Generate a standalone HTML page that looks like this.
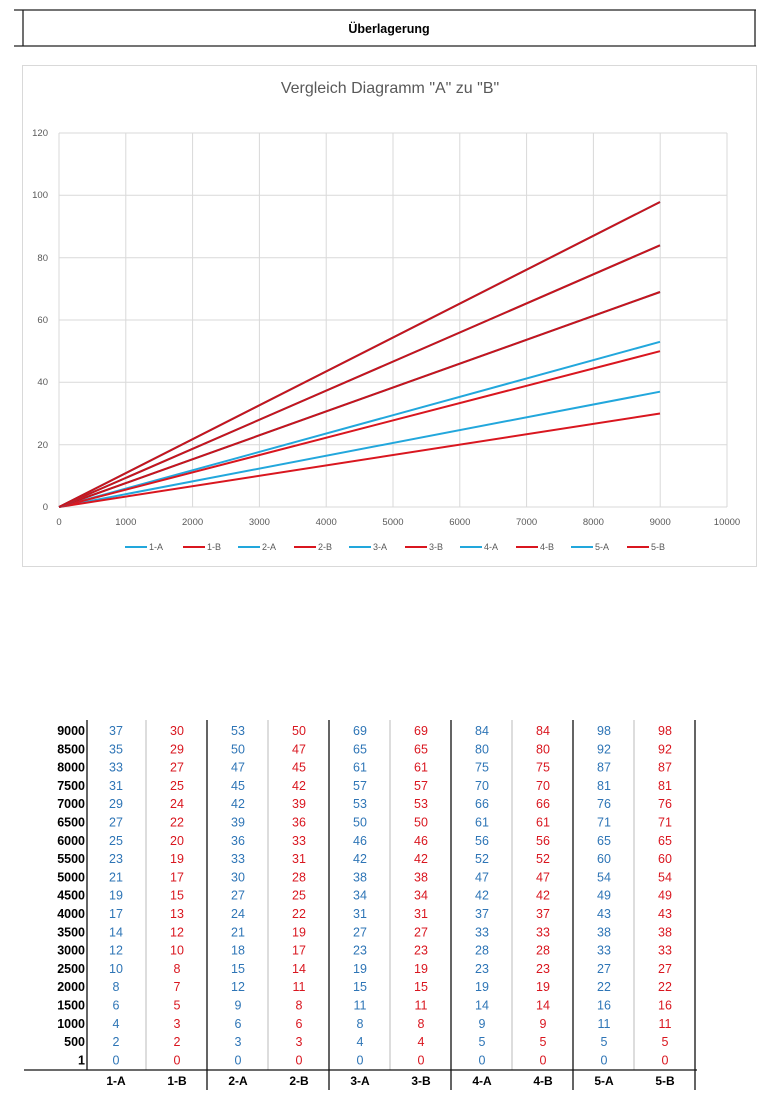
<!DOCTYPE html>
<html><head><meta charset="utf-8"><style>
body{margin:0;background:#fff;width:770px;height:1101px;overflow:hidden}
svg{display:block;font-family:"Liberation Sans",Arial,sans-serif}
</style></head><body>
<svg width="770" height="1101" viewBox="0 0 770 1101">
<!-- header -->
<line x1="14" y1="10" x2="756" y2="10" stroke="#222" stroke-width="1.3"/>
<line x1="14" y1="46" x2="756" y2="46" stroke="#222" stroke-width="1.3"/>
<line x1="23" y1="10" x2="23" y2="46" stroke="#222" stroke-width="1.3"/>
<line x1="755" y1="10" x2="755" y2="46" stroke="#222" stroke-width="1.3"/>
<text x="389" y="33" text-anchor="middle" font-size="12.5" font-weight="bold">Überlagerung</text>
<!-- chart box -->
<rect x="22.5" y="65.5" width="734" height="501" fill="#fff" stroke="#d9d9d9"/>
<text x="390" y="93" text-anchor="middle" font-size="16" fill="#595959">Vergleich Diagramm "A" zu "B"</text>
<g stroke="#d9d9d9" stroke-width="1">
<line x1="59" y1="133" x2="727" y2="133"/><line x1="59" y1="195.3" x2="727" y2="195.3"/>
<line x1="59" y1="257.7" x2="727" y2="257.7"/><line x1="59" y1="320" x2="727" y2="320"/>
<line x1="59" y1="382.3" x2="727" y2="382.3"/><line x1="59" y1="444.7" x2="727" y2="444.7"/>
<line x1="59" y1="507" x2="727" y2="507"/>
<line x1="59" y1="133" x2="59" y2="507"/><line x1="125.8" y1="133" x2="125.8" y2="507"/>
<line x1="192.6" y1="133" x2="192.6" y2="507"/><line x1="259.4" y1="133" x2="259.4" y2="507"/>
<line x1="326.2" y1="133" x2="326.2" y2="507"/><line x1="393" y1="133" x2="393" y2="507"/>
<line x1="459.8" y1="133" x2="459.8" y2="507"/><line x1="526.6" y1="133" x2="526.6" y2="507"/>
<line x1="593.4" y1="133" x2="593.4" y2="507"/><line x1="660.2" y1="133" x2="660.2" y2="507"/>
<line x1="727" y1="133" x2="727" y2="507"/>
</g>
<g font-size="9.5" fill="#595959" text-anchor="end">
<text x="48" y="136">120</text><text x="48" y="198">100</text><text x="48" y="261">80</text>
<text x="48" y="323">60</text><text x="48" y="385">40</text><text x="48" y="448">20</text><text x="48" y="510">0</text>
</g>
<g font-size="9.5" fill="#595959" text-anchor="middle">
<text x="59" y="525">0</text><text x="125.8" y="525">1000</text><text x="192.6" y="525">2000</text>
<text x="259.4" y="525">3000</text><text x="326.2" y="525">4000</text><text x="393" y="525">5000</text>
<text x="459.8" y="525">6000</text><text x="526.6" y="525">7000</text><text x="593.4" y="525">8000</text>
<text x="660.2" y="525">9000</text><text x="727" y="525">10000</text>
</g>
<g stroke-width="2" fill="none">
<line x1="59" y1="507" x2="660" y2="391.7" stroke="#22a7dc"/>
<line x1="59" y1="507" x2="660" y2="413.5" stroke="#d9161f"/>
<line x1="59" y1="507" x2="660" y2="341.8" stroke="#22a7dc"/>
<line x1="59" y1="507" x2="660" y2="351.2" stroke="#d9161f"/>
<line x1="59" y1="507" x2="660" y2="292" stroke="#22a7dc"/>
<line x1="59" y1="507" x2="660" y2="292" stroke="#c8141c"/>
<line x1="59" y1="507" x2="660" y2="245.3" stroke="#22a7dc"/>
<line x1="59" y1="507" x2="660" y2="245.3" stroke="#c8141c"/>
<line x1="59" y1="507" x2="660" y2="202" stroke="#22a7dc"/>
<line x1="59" y1="507" x2="660" y2="202" stroke="#c8141c"/>
</g>
<g font-size="9" fill="#595959">
<line x1="125" y1="547" x2="147" y2="547" stroke="#22a7dc" stroke-width="2"/><text x="149" y="550">1-A</text>
<line x1="183" y1="547" x2="205" y2="547" stroke="#d9161f" stroke-width="2"/><text x="207" y="550">1-B</text>
<line x1="238" y1="547" x2="260" y2="547" stroke="#22a7dc" stroke-width="2"/><text x="262" y="550">2-A</text>
<line x1="294" y1="547" x2="316" y2="547" stroke="#d9161f" stroke-width="2"/><text x="318" y="550">2-B</text>
<line x1="349" y1="547" x2="371" y2="547" stroke="#22a7dc" stroke-width="2"/><text x="373" y="550">3-A</text>
<line x1="405" y1="547" x2="427" y2="547" stroke="#d9161f" stroke-width="2"/><text x="429" y="550">3-B</text>
<line x1="460" y1="547" x2="482" y2="547" stroke="#22a7dc" stroke-width="2"/><text x="484" y="550">4-A</text>
<line x1="516" y1="547" x2="538" y2="547" stroke="#d9161f" stroke-width="2"/><text x="540" y="550">4-B</text>
<line x1="571" y1="547" x2="593" y2="547" stroke="#22a7dc" stroke-width="2"/><text x="595" y="550">5-A</text>
<line x1="627" y1="547" x2="649" y2="547" stroke="#d9161f" stroke-width="2"/><text x="651" y="550">5-B</text>
</g>
<!-- table -->
<g stroke="#bbb" stroke-width="1">
<line x1="146" y1="720" x2="146" y2="1070"/><line x1="268" y1="720" x2="268" y2="1070"/>
<line x1="390" y1="720" x2="390" y2="1070"/><line x1="512" y1="720" x2="512" y2="1070"/>
<line x1="634" y1="720" x2="634" y2="1070"/>
</g>
<g stroke="#111" stroke-width="1.3">
<line x1="87" y1="720" x2="87" y2="1070"/>
<line x1="207" y1="720" x2="207" y2="1090"/><line x1="329" y1="720" x2="329" y2="1090"/>
<line x1="451" y1="720" x2="451" y2="1090"/><line x1="573" y1="720" x2="573" y2="1090"/>
<line x1="695" y1="720" x2="695" y2="1090"/>
<line x1="24" y1="1070" x2="697" y2="1070"/>
</g>
<g id="tbl" font-size="12.5"></g>
<g font-size="12" font-weight="bold" text-anchor="middle">
<text x="116" y="1085">1-A</text><text x="177" y="1085">1-B</text><text x="238" y="1085">2-A</text>
<text x="299" y="1085">2-B</text><text x="360" y="1085">3-A</text><text x="421" y="1085">3-B</text>
<text x="482" y="1085">4-A</text><text x="543" y="1085">4-B</text><text x="604" y="1085">5-A</text>
<text x="665" y="1085">5-B</text>
</g>
<g font-size="12.5" font-weight="bold" text-anchor="end">
<text x="85" y="735">9000</text><text x="85" y="753.3">8500</text><text x="85" y="771.6">8000</text>
<text x="85" y="789.9">7500</text><text x="85" y="808.2">7000</text><text x="85" y="826.5">6500</text>
<text x="85" y="844.8">6000</text><text x="85" y="863.1">5500</text><text x="85" y="881.4">5000</text>
<text x="85" y="899.7">4500</text><text x="85" y="918">4000</text><text x="85" y="936.3">3500</text>
<text x="85" y="954.6">3000</text><text x="85" y="972.9">2500</text><text x="85" y="991.2">2000</text>
<text x="85" y="1009.5">1500</text><text x="85" y="1027.8">1000</text><text x="85" y="1046.1">500</text>
<text x="85" y="1064.4">1</text>
</g>
<g font-size="12.5" text-anchor="middle">
<g fill="#2e75b6">
<text x="116" y="735">37</text><text x="116" y="753.3">35</text><text x="116" y="771.6">33</text><text x="116" y="789.9">31</text><text x="116" y="808.2">29</text><text x="116" y="826.5">27</text><text x="116" y="844.8">25</text><text x="116" y="863.1">23</text><text x="116" y="881.4">21</text><text x="116" y="899.7">19</text><text x="116" y="918">17</text><text x="116" y="936.3">14</text><text x="116" y="954.6">12</text><text x="116" y="972.9">10</text><text x="116" y="991.2">8</text><text x="116" y="1009.5">6</text><text x="116" y="1027.8">4</text><text x="116" y="1046.1">2</text><text x="116" y="1064.4">0</text>
<text x="238" y="735">53</text><text x="238" y="753.3">50</text><text x="238" y="771.6">47</text><text x="238" y="789.9">45</text><text x="238" y="808.2">42</text><text x="238" y="826.5">39</text><text x="238" y="844.8">36</text><text x="238" y="863.1">33</text><text x="238" y="881.4">30</text><text x="238" y="899.7">27</text><text x="238" y="918">24</text><text x="238" y="936.3">21</text><text x="238" y="954.6">18</text><text x="238" y="972.9">15</text><text x="238" y="991.2">12</text><text x="238" y="1009.5">9</text><text x="238" y="1027.8">6</text><text x="238" y="1046.1">3</text><text x="238" y="1064.4">0</text>
<text x="360" y="735">69</text><text x="360" y="753.3">65</text><text x="360" y="771.6">61</text><text x="360" y="789.9">57</text><text x="360" y="808.2">53</text><text x="360" y="826.5">50</text><text x="360" y="844.8">46</text><text x="360" y="863.1">42</text><text x="360" y="881.4">38</text><text x="360" y="899.7">34</text><text x="360" y="918">31</text><text x="360" y="936.3">27</text><text x="360" y="954.6">23</text><text x="360" y="972.9">19</text><text x="360" y="991.2">15</text><text x="360" y="1009.5">11</text><text x="360" y="1027.8">8</text><text x="360" y="1046.1">4</text><text x="360" y="1064.4">0</text>
<text x="482" y="735">84</text><text x="482" y="753.3">80</text><text x="482" y="771.6">75</text><text x="482" y="789.9">70</text><text x="482" y="808.2">66</text><text x="482" y="826.5">61</text><text x="482" y="844.8">56</text><text x="482" y="863.1">52</text><text x="482" y="881.4">47</text><text x="482" y="899.7">42</text><text x="482" y="918">37</text><text x="482" y="936.3">33</text><text x="482" y="954.6">28</text><text x="482" y="972.9">23</text><text x="482" y="991.2">19</text><text x="482" y="1009.5">14</text><text x="482" y="1027.8">9</text><text x="482" y="1046.1">5</text><text x="482" y="1064.4">0</text>
<text x="604" y="735">98</text><text x="604" y="753.3">92</text><text x="604" y="771.6">87</text><text x="604" y="789.9">81</text><text x="604" y="808.2">76</text><text x="604" y="826.5">71</text><text x="604" y="844.8">65</text><text x="604" y="863.1">60</text><text x="604" y="881.4">54</text><text x="604" y="899.7">49</text><text x="604" y="918">43</text><text x="604" y="936.3">38</text><text x="604" y="954.6">33</text><text x="604" y="972.9">27</text><text x="604" y="991.2">22</text><text x="604" y="1009.5">16</text><text x="604" y="1027.8">11</text><text x="604" y="1046.1">5</text><text x="604" y="1064.4">0</text>
</g>
<g fill="#d9161f">
<text x="177" y="735">30</text><text x="177" y="753.3">29</text><text x="177" y="771.6">27</text><text x="177" y="789.9">25</text><text x="177" y="808.2">24</text><text x="177" y="826.5">22</text><text x="177" y="844.8">20</text><text x="177" y="863.1">19</text><text x="177" y="881.4">17</text><text x="177" y="899.7">15</text><text x="177" y="918">13</text><text x="177" y="936.3">12</text><text x="177" y="954.6">10</text><text x="177" y="972.9">8</text><text x="177" y="991.2">7</text><text x="177" y="1009.5">5</text><text x="177" y="1027.8">3</text><text x="177" y="1046.1">2</text><text x="177" y="1064.4">0</text>
<text x="299" y="735">50</text><text x="299" y="753.3">47</text><text x="299" y="771.6">45</text><text x="299" y="789.9">42</text><text x="299" y="808.2">39</text><text x="299" y="826.5">36</text><text x="299" y="844.8">33</text><text x="299" y="863.1">31</text><text x="299" y="881.4">28</text><text x="299" y="899.7">25</text><text x="299" y="918">22</text><text x="299" y="936.3">19</text><text x="299" y="954.6">17</text><text x="299" y="972.9">14</text><text x="299" y="991.2">11</text><text x="299" y="1009.5">8</text><text x="299" y="1027.8">6</text><text x="299" y="1046.1">3</text><text x="299" y="1064.4">0</text>
<text x="421" y="735">69</text><text x="421" y="753.3">65</text><text x="421" y="771.6">61</text><text x="421" y="789.9">57</text><text x="421" y="808.2">53</text><text x="421" y="826.5">50</text><text x="421" y="844.8">46</text><text x="421" y="863.1">42</text><text x="421" y="881.4">38</text><text x="421" y="899.7">34</text><text x="421" y="918">31</text><text x="421" y="936.3">27</text><text x="421" y="954.6">23</text><text x="421" y="972.9">19</text><text x="421" y="991.2">15</text><text x="421" y="1009.5">11</text><text x="421" y="1027.8">8</text><text x="421" y="1046.1">4</text><text x="421" y="1064.4">0</text>
<text x="543" y="735">84</text><text x="543" y="753.3">80</text><text x="543" y="771.6">75</text><text x="543" y="789.9">70</text><text x="543" y="808.2">66</text><text x="543" y="826.5">61</text><text x="543" y="844.8">56</text><text x="543" y="863.1">52</text><text x="543" y="881.4">47</text><text x="543" y="899.7">42</text><text x="543" y="918">37</text><text x="543" y="936.3">33</text><text x="543" y="954.6">28</text><text x="543" y="972.9">23</text><text x="543" y="991.2">19</text><text x="543" y="1009.5">14</text><text x="543" y="1027.8">9</text><text x="543" y="1046.1">5</text><text x="543" y="1064.4">0</text>
<text x="665" y="735">98</text><text x="665" y="753.3">92</text><text x="665" y="771.6">87</text><text x="665" y="789.9">81</text><text x="665" y="808.2">76</text><text x="665" y="826.5">71</text><text x="665" y="844.8">65</text><text x="665" y="863.1">60</text><text x="665" y="881.4">54</text><text x="665" y="899.7">49</text><text x="665" y="918">43</text><text x="665" y="936.3">38</text><text x="665" y="954.6">33</text><text x="665" y="972.9">27</text><text x="665" y="991.2">22</text><text x="665" y="1009.5">16</text><text x="665" y="1027.8">11</text><text x="665" y="1046.1">5</text><text x="665" y="1064.4">0</text>
</g>
</g>
</svg>
</body></html>
